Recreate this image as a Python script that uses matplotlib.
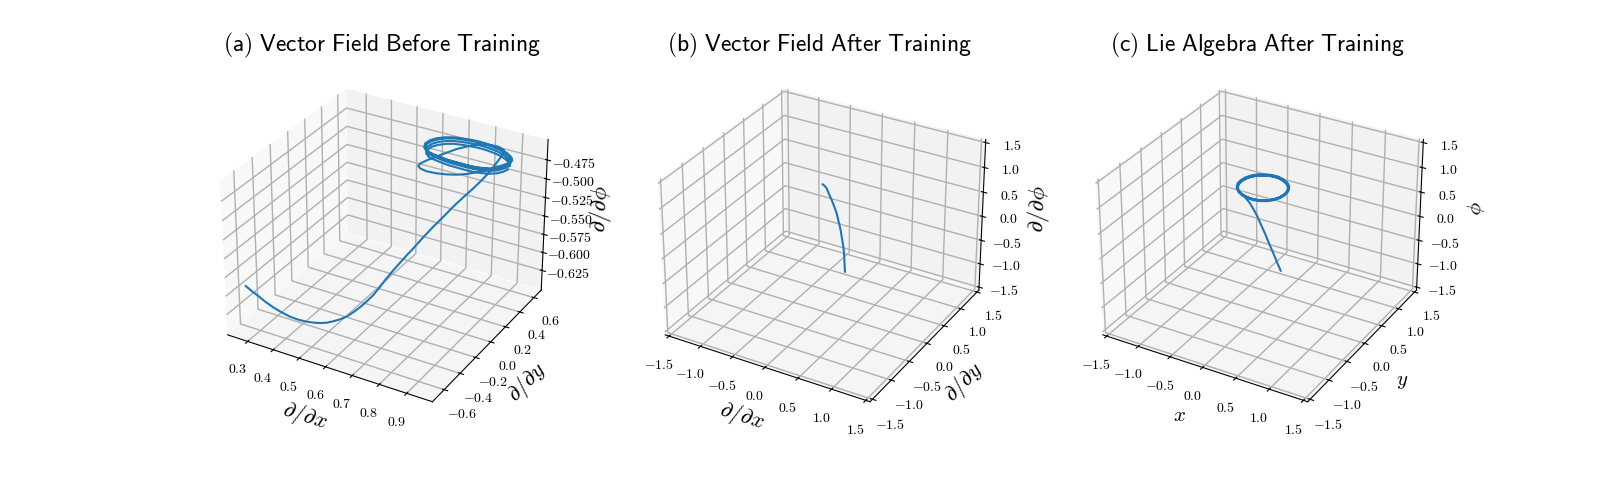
"""
Three 3D trajectories: vector field before/after training and the Lie algebra.
"""
import matplotlib
matplotlib.use('Agg')
import matplotlib.pyplot as plt

# (a) vector field before training
x_a = [0.237, 0.234, 0.238, 0.259, 0.284, 0.315, 0.349, 0.378, 0.404, 0.426, 0.447, 0.470, 0.489, 0.507, 0.522, 0.532, 0.545, 0.555, 0.568, 0.575, 0.581, 0.589, 0.603, 0.608, 0.619, 0.631, 0.645, 0.661, 0.676, 0.694,
       0.718, 0.740, 0.761, 0.777, 0.794, 0.807, 0.813, 0.800, 0.782, 0.753, 0.730, 0.703, 0.682, 0.660, 0.644, 0.624, 0.616, 0.619, 0.635, 0.661, 0.697, 0.734, 0.763, 0.794, 0.817, 0.848, 0.869, 0.889, 0.905, 0.910, 0.897,
       0.872, 0.844, 0.815, 0.781, 0.749, 0.720, 0.691, 0.663, 0.639, 0.618, 0.606, 0.603, 0.614, 0.634, 0.661, 0.693, 0.726, 0.758, 0.789, 0.819, 0.847, 0.873, 0.895, 0.909, 0.915, 0.908, 0.895, 0.871, 0.844, 0.816, 0.783,
       0.752, 0.723, 0.695, 0.669, 0.645, 0.625, 0.613, 0.610, 0.620, 0.640, 0.667, 0.697, 0.730, 0.760, 0.790, 0.820, 0.847, 0.871, 0.893, 0.906, 0.913, 0.907, 0.894, 0.871, 0.845, 0.817, 0.785, 0.755, 0.726, 0.699, 0.673,
       0.650, 0.630, 0.619, 0.616, 0.626, 0.645, 0.671, 0.701, 0.733, 0.762, 0.792, 0.821, 0.847, 0.871, 0.893, 0.905, 0.912, 0.911, 0.899, 0.876, 0.849, 0.821, 0.789, 0.759, 0.731, 0.704, 0.677, 0.655, 0.635, 0.623, 0.621,
       0.630, 0.650, 0.676, 0.705, 0.737, 0.767, 0.796, 0.825, 0.851, 0.876, 0.897, 0.910, 0.916]
y_a = [-0.571, -0.499, -0.440, -0.419, -0.405, -0.399, -0.402, -0.391, -0.370, -0.359, -0.342, -0.332, -0.312, -0.286, -0.253, -0.204, -0.162, -0.110, -0.069, -0.007, 0.055, 0.114, 0.154, 0.222, 0.271, 0.359,
       0.443, 0.521, 0.600, 0.671, 0.720, 0.753, 0.767, 0.797, 0.801, 0.798, 0.784, 0.751, 0.747, 0.737, 0.707, 0.670, 0.610, 0.553, 0.478, 0.418, 0.358, 0.325, 0.302, 0.290, 0.298, 0.299, 0.326, 0.346, 0.397, 0.418, 0.452,
       0.491, 0.520, 0.532, 0.569, 0.604, 0.630, 0.646, 0.656, 0.658, 0.652, 0.642, 0.628, 0.602, 0.564, 0.519, 0.468, 0.416, 0.381, 0.365, 0.352, 0.343, 0.342, 0.340, 0.342, 0.353, 0.370, 0.400, 0.439, 0.482, 0.523, 0.558,
       0.592, 0.618, 0.633, 0.643, 0.645, 0.639, 0.629, 0.616, 0.590, 0.553, 0.509, 0.460, 0.410, 0.376, 0.360, 0.348, 0.339, 0.338, 0.337, 0.339, 0.349, 0.366, 0.394, 0.433, 0.474, 0.514, 0.549, 0.582, 0.607, 0.622, 0.631,
       0.633, 0.628, 0.618, 0.605, 0.580, 0.543, 0.501, 0.453, 0.404, 0.371, 0.355, 0.343, 0.334, 0.333, 0.332, 0.334, 0.344, 0.360, 0.388, 0.426, 0.467, 0.499, 0.533, 0.566, 0.591, 0.605, 0.615, 0.617, 0.611, 0.602, 0.589,
       0.564, 0.527, 0.485, 0.437, 0.388, 0.355, 0.339, 0.328, 0.319, 0.318, 0.316, 0.319, 0.328, 0.345, 0.373, 0.411, 0.451]
z_a = [-0.6015, -0.6158, -0.6281, -0.6362, -0.6424, -0.6465, -0.6485, -0.6506, -0.6526, -0.6526, -0.6526, -0.6506, -0.6485, -0.6465, -0.6444, -0.6424, -0.6383, -0.6342, -0.6281, -0.6219, -0.6158, -0.6097, -0.6015, -0.5974, -0.5913, -0.5831, -0.5749, -0.5668, -0.5586, -0.5504, -0.5402, -0.5300, -0.5197, -0.5095, -0.4993, -0.4911, -0.4850,
       -0.4789, -0.4789, -0.4789, -0.4789, -0.4809, -0.4809, -0.4830, -0.4830, -0.4850, -0.4850, -0.4850, -0.4850, -0.4850, -0.4850, -0.4830, -0.4830, -0.4809, -0.4809, -0.4768, -0.4748, -0.4727, -0.4707] + [-0.4686] * 54 + [-0.4707] * 27 + [-0.4727] * 27

# (b) vector field after training
x_b = [-0.336, -0.332, -0.319, -0.298, -0.267, -0.248, -0.231, -0.216, -0.200, -0.191, -0.180, -0.161, -0.146, -0.119, -0.098]
y_b = [0.521, 0.569, 0.600, 0.626, 0.646, 0.684, 0.721, 0.750, 0.778, 0.800, 0.821, 0.806, 0.790, 0.753, 0.725]
z_b = [0.625, 0.5625, 0.500, 0.375, 0.250, 0.094, -0.0625, -0.250, -0.4375, -0.625, -0.8125, -0.9375, -1.0625, -1.156, -1.250]

# (c) Lie algebra after training
x_c = [-0.134, -0.186, -0.221, -0.269, -0.313, -0.348, -0.375, -0.371, -0.361, -0.353, -0.331,
       -0.355, -0.449, -0.525, -0.571, -0.579, -0.564, -0.522, -0.458, -0.380, -0.293, -0.191, -0.095, -0.002, 0.076, 0.120, 0.131, 0.115, 0.073, 0.010, -0.074, -0.165, -0.260,
       -0.348, -0.439, -0.513, -0.557, -0.566, -0.550, -0.509, -0.448, -0.372, -0.286, -0.186, -0.094, -0.003, 0.074, 0.116, 0.127, 0.110, 0.070, 0.008, -0.073, -0.161, -0.255,
       -0.341, -0.429, -0.502, -0.545, -0.554, -0.539, -0.499, -0.439, -0.364, -0.280, -0.183, -0.092, -0.003, 0.072, 0.114, 0.124, 0.108, 0.069, 0.008, -0.072, -0.157, -0.250,
       -0.340, -0.431, -0.506, -0.551, -0.559, -0.544, -0.503, -0.441, -0.364, -0.277, -0.177, -0.083, 0.008, 0.085, 0.128, 0.140, 0.123, 0.082, 0.020, -0.063, -0.151, -0.246]
y_c = [0.734, 0.714, 0.680, 0.643, 0.607, 0.551, 0.489, 0.393, 0.288, 0.204, 0.105,
       0.077, 0.130, 0.216, 0.319, 0.422, 0.519, 0.609, 0.679, 0.724, 0.753, 0.756, 0.724, 0.669, 0.584, 0.480, 0.369, 0.264, 0.176, 0.108, 0.060, 0.040, 0.047,
       0.077, 0.129, 0.211, 0.313, 0.414, 0.507, 0.595, 0.664, 0.707, 0.735, 0.739, 0.707, 0.653, 0.571, 0.470, 0.361, 0.259, 0.174, 0.107, 0.060, 0.041, 0.048,
       0.076, 0.126, 0.207, 0.306, 0.404, 0.497, 0.582, 0.649, 0.693, 0.720, 0.723, 0.693, 0.640, 0.559, 0.459, 0.354, 0.253, 0.170, 0.105, 0.059, 0.040, 0.047,
       0.058, 0.110, 0.194, 0.296, 0.398, 0.493, 0.581, 0.650, 0.694, 0.722, 0.726, 0.694, 0.640, 0.556, 0.454, 0.346, 0.242, 0.156, 0.090, 0.042, 0.021, 0.029]
z_c = [-1.250, -1.0625, -0.875, -0.656, -0.4375, -0.219, 0.000, 0.1875, 0.375, 0.500, 0.625] + [0.6875] * 88

titles = [r'$\mathsf{(a)\ Vector\ Field\ Before\ Training}$',
          r'$\mathsf{(b)\ Vector\ Field\ After\ Training}$',
          r'$\mathsf{(c)\ Lie\ Algebra\ After\ Training}$']
grad_labels = [r'$\partial/\partial x$', r'$\partial/\partial y$', r'$\partial/\partial \phi$']
lie_labels = [r'$x$', r'$y$', r'$\phi$']
phi_ticks_a = [-0.625, -0.600, -0.575, -0.550, -0.525, -0.500, -0.475]
full_ticks = [-1.5, -1.0, -0.5, 0.0, 0.5, 1.0, 1.5]

plt.rcParams['font.family'] = ['cmr10']
plt.rcParams['mathtext.fontset'] = 'cm'
plt.rcParams['axes.formatter.use_mathtext'] = True
plt.rcParams['axes.unicode_minus'] = False
plt.rcParams['grid.linewidth'] = 1.0


def finish(ax, title, labels, label_size):
    ax.set_title(title, fontsize=17, pad=4.5)
    ax.set_xlabel(labels[0], fontsize=label_size)
    ax.set_ylabel(labels[1], fontsize=label_size)
    ax.set_zlabel(labels[2], fontsize=label_size)
    # panes have no outline in the original
    for axis in (ax.xaxis, ax.yaxis, ax.zaxis):
        axis.pane.set_edgecolor((1, 1, 1, 0))


fig = plt.figure(figsize=(16, 4.8), dpi=100)

ax = fig.add_subplot(1, 3, 1, projection='3d')
ax.plot(x_a, y_a, z_a)
ax.set_xlim(0.2205, 0.9925)
ax.set_ylim(-0.745, 0.707)
ax.set_zlim(-0.6526, -0.4482)
ax.set_zticks(phi_ticks_a)
finish(ax, titles[0], grad_labels, 16)

# the +-1.5 ticks sit a little inside the box
box = 1.5625

ax = fig.add_subplot(1, 3, 2, projection='3d')
ax.plot(x_b, y_b, z_b)
ax.set_xlim(-box, box)
ax.set_ylim(-box, box)
ax.set_zlim(-box, box)
ax.set_xticks(full_ticks)
ax.set_yticks(full_ticks)
ax.set_zticks(full_ticks)
finish(ax, titles[1], grad_labels, 16)

ax = fig.add_subplot(1, 3, 3, projection='3d')
ax.plot(x_c, y_c, z_c)
ax.set_xlim(-box, box)
ax.set_ylim(-box, box)
ax.set_zlim(-box, box)
ax.set_xticks(full_ticks)
ax.set_yticks(full_ticks)
ax.set_zticks(full_ticks)
finish(ax, titles[2], lie_labels, 15)

fig.savefig('out.png')
